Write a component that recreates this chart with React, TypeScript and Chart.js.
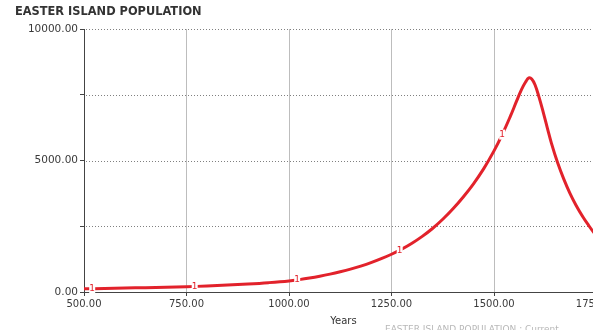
import React, { useEffect, useRef } from "react";
import { Chart, registerables } from "chart.js";

Chart.register(...registerables);

const chartTitle = "EASTER ISLAND POPULATION";
const xAxisTitle = "Years";
const legendText = "EASTER ISLAND POPULATION : Current";

const years = [
  500, 550, 600, 650, 700, 750, 800, 850, 900, 950, 1000, 1025, 1050, 1075, 1100,
  1125, 1150, 1175, 1200, 1225, 1250, 1275, 1300, 1325, 1350, 1375, 1400, 1425,
  1450, 1475, 1500, 1520, 1540, 1555, 1567, 1577, 1585, 1592, 1600, 1610, 1620,
  1630, 1640, 1655, 1670, 1685, 1700, 1717, 1730, 1745, 1760, 1780, 1800,
];
const population = [
  120, 135, 150, 165, 180, 200, 230, 265, 305, 355, 420, 470, 530, 600, 680,
  770, 870, 985, 1115, 1265, 1435, 1630, 1855, 2115, 2415, 2765, 3165, 3615,
  4115, 4690, 5365, 5985, 6685, 7255, 7695, 7985, 8140, 8100, 7880, 7400, 6840,
  6240, 5660, 4920, 4300, 3760, 3300, 2850, 2550, 2230, 1960, 1650, 1380,
];

const xTickValues = [500, 750, 1000, 1250, 1500, 1750];
const yTickValues = [0, 2500, 5000, 7500, 10000];
const yLabeledTicks = [0, 5000, 10000];
const yDottedGrid = [2500, 5000, 7500, 10000];
const markerYears = [520, 770, 1020, 1270, 1520];

const LINE_RED = "#e2222b";
const FONT = '"DejaVu Sans", sans-serif';

function interpPopulation(year: number): number {
  for (let i = 0; i < years.length - 1; i++) {
    if (year >= years[i] && year <= years[i + 1]) {
      const t = (year - years[i]) / (years[i + 1] - years[i]);
      return population[i] + t * (population[i + 1] - population[i]);
    }
  }
  return population[population.length - 1];
}

const decorPlugin = {
  id: "decor",
  beforeDatasetsDraw(chart: any) {
    const { ctx, chartArea, scales } = chart;
    ctx.save();
    ctx.strokeStyle = "#808080";
    ctx.lineWidth = 1;
    ctx.setLineDash([1, 2]);
    for (const v of yDottedGrid) {
      const y = Math.round(scales.y.getPixelForValue(v)) + 0.5;
      ctx.beginPath();
      ctx.moveTo(chartArea.left + 2, y);
      ctx.lineTo(chartArea.right, y);
      ctx.stroke();
    }
    ctx.restore();
  },
  afterDatasetsDraw(chart: any) {
    const { ctx, scales } = chart;
    ctx.save();
    for (const yr of markerYears) {
      const px = scales.x.getPixelForValue(yr);
      const py = scales.y.getPixelForValue(interpPopulation(yr));
      ctx.fillStyle = "#ffffff";
      ctx.fillRect(px - 3, py - 5, 6, 10);
      ctx.fillStyle = LINE_RED;
      ctx.font = `9px ${FONT}`;
      ctx.textAlign = "center";
      ctx.textBaseline = "middle";
      ctx.fillText("1", px, py);
    }
    ctx.restore();
  },
  afterDraw(chart: any) {
    const { ctx, chartArea } = chart;
    ctx.save();
    ctx.fillStyle = "#333333";
    ctx.font = `bold 11.4px ${FONT}`;
    ctx.textAlign = "left";
    ctx.textBaseline = "middle";
    ctx.fillText(chartTitle, 15, 12.5);

    ctx.font = `10px ${FONT}`;
    ctx.textAlign = "center";
    ctx.fillText(xAxisTitle, (chartArea.left + chartArea.right) / 2 - 7, 321);

    ctx.fillStyle = "#b8b8b8";
    ctx.font = `9px ${FONT}`;
    ctx.textAlign = "left";
    ctx.textBaseline = "top";
    ctx.fillText(legendText, 385, 325);
    ctx.restore();
  },
};

export default function App() {
  const canvasRef = useRef<HTMLCanvasElement | null>(null);

  useEffect(() => {
    const canvas = canvasRef.current;
    if (!canvas) return;
    const chart = new Chart(canvas, {
      type: "line",
      data: {
        datasets: [
          {
            label: chartTitle,
            data: years.map((x, i) => ({ x, y: population[i] })),
            borderColor: LINE_RED,
            borderWidth: 3,
            pointRadius: 0,
            fill: false,
            tension: 0.4,
          },
        ],
      },
      options: {
        responsive: false,
        animation: false,
        devicePixelRatio: 1,
        layout: { padding: { left: 0, top: 29, right: 43, bottom: 0 } },
        plugins: {
          legend: { display: false },
          tooltip: { enabled: false },
          title: { display: false },
        },
        scales: {
          x: {
            type: "linear",
            min: 500,
            max: 1800,
            afterBuildTicks: (s: any) => {
              s.ticks = xTickValues.map((v) => ({ value: v }));
            },
            afterFit: (s: any) => {
              s.height = 38;
            },
            grid: {
              color: (c: any) =>
                c.tick && c.tick.value === 500 ? "rgba(0,0,0,0)" : "#bdbdbd",
              lineWidth: 1,
              tickColor: "#444",
              tickLength: 4,
            },
            border: { display: true, color: "#444", width: 1 },
            ticks: {
              autoSkip: false,
              maxRotation: 0,
              padding: 2,
              color: "#3a3a3a",
              font: { family: "DejaVu Sans", size: 10 },
              callback: (v: any) => Number(v).toFixed(2),
            },
          },
          y: {
            type: "linear",
            min: 0,
            max: 10000,
            afterBuildTicks: (s: any) => {
              s.ticks = yTickValues.map((v) => ({ value: v }));
            },
            afterFit: (s: any) => {
              s.width = 84;
            },
            grid: {
              drawOnChartArea: false,
              tickColor: "#444",
              tickLength: 4,
            },
            border: { display: true, color: "#444", width: 1 },
            ticks: {
              autoSkip: false,
              padding: 2,
              color: "#3a3a3a",
              font: { family: "DejaVu Sans", size: 10.5 },
              callback: (v: any) =>
                yLabeledTicks.includes(Number(v)) ? Number(v).toFixed(2) : "",
            },
          },
        },
      },
      plugins: [decorPlugin],
    } as any);
    return () => chart.destroy();
  }, []);

  return (
    <div
      style={{
        position: "fixed",
        left: 0,
        top: 0,
        width: 593,
        height: 330,
        overflow: "hidden",
        background: "#ffffff",
      }}
    >
      <canvas ref={canvasRef} width={660} height={330} style={{ display: "block" }} />
    </div>
  );
}
